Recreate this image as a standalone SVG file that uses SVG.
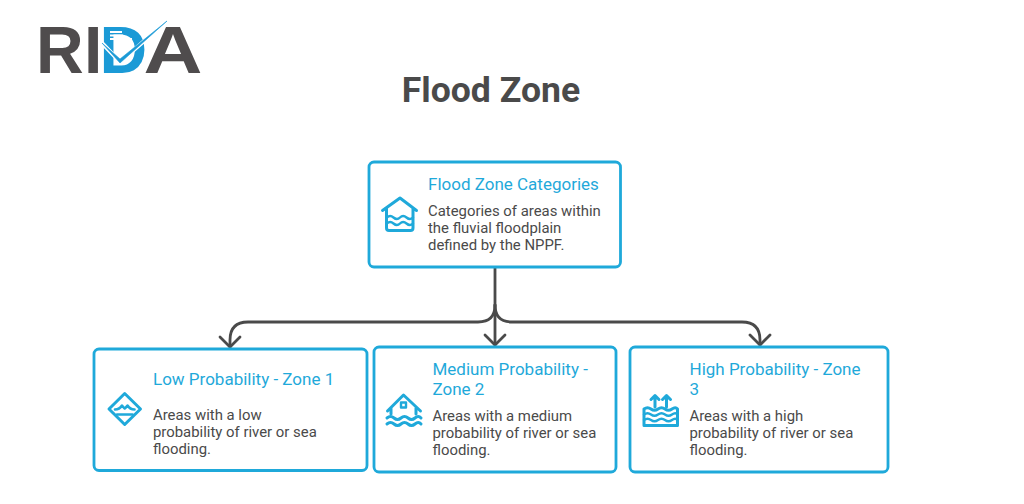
<svg xmlns="http://www.w3.org/2000/svg" width="1024" height="504" viewBox="0 0 1024 504">
<defs>
<style>
.box{fill:#fff;stroke:#1fa9da;stroke-width:2.800}
.h{font-family:Roboto,"Liberation Sans",sans-serif;font-size:17px;fill:#1fa9da}
.b{font-family:Roboto,"Liberation Sans",sans-serif;font-size:14.900px;fill:#4a4a4a}
.ic{fill:none;stroke:#1fa9da;stroke-width:3;stroke-linecap:round;stroke-linejoin:round}
.cn{fill:none;stroke:#4a4a4a;stroke-width:2.800;stroke-linecap:round;stroke-linejoin:round}
.lg{font-family:"Liberation Sans",Arial,sans-serif;font-weight:700;font-size:66px;fill:#4f4c4d}
</style>
</defs>
<rect width="1024" height="504" fill="#fff"/>
<g id="logo">
<text class="lg" x="36 84 99.500" y="72.500">RI<tspan style="fill:#1b9ad6">D</tspan></text>
<text class="lg" x="143.500" y="72.500" textLength="59" lengthAdjust="spacingAndGlyphs">A</text>
<path d="M102 43L120 62L166 22" fill="none" stroke="#fff" stroke-width="4"/>
<path d="M102 43L120 59L167 21L120 63Z" fill="#1b9ad6" stroke="#1b9ad6" stroke-width=".6"/>
<path d="M110 32H122M110 35.500H123M110 39H132" stroke="#fff" stroke-width="1.800" fill="none"/>
</g>
<text id="title" x="491" y="102" text-anchor="middle" style="font-family:Roboto,'Liberation Sans',sans-serif;font-weight:700;font-size:35.600px;fill:#4a4a4a">Flood Zone</text>
<g id="connectors">
<path class="cn" d="M495 267V345"/>
<path class="cn" d="M495 305Q495 322 478 322H248Q230 322 230 340V347"/>
<path class="cn" d="M495 305Q495 322 512 322H742Q760 322 760 340V345"/>
<path class="cn" d="M220 337L230 347L240 337"/>
<path class="cn" d="M485 335L495 345L505 335"/>
<path class="cn" d="M750 335L760 345L770 335"/>
</g>
<g id="node-categories">
<rect class="box" x="369" y="162" width="251.500" height="105" rx="5"/>
<path class="ic" d="M382.500 210.500L400 198L416.500 210.500M386.500 208V228Q386.500 230.500 389 230.500H410.500Q413 230.500 413 228V208"/>
<path class="ic" style="stroke-width:2.400" d="M387 217.500Q390 214.500 393.500 217.500T400 217.500T406.500 217.500T413 217.500M387 223.500Q390 220.500 393.500 223.500T400 223.500T406.500 223.500T413 223.500"/>
<text class="h" x="428" y="190">Flood Zone Categories</text>
<text class="b" x="428" y="216">Categories of areas within</text>
<text class="b" x="428" y="233">the fluvial floodplain</text>
<text class="b" x="428" y="250">defined by the NPPF.</text>
</g>
<g id="node-low">
<rect class="box" x="94" y="349" width="273" height="121.500" rx="5"/>
<path class="ic" d="M124.700 393.500L140.500 409L124.700 424.500L109 409Z"/>
<path class="ic" style="stroke-width:2.600" d="M115 409.500Q119.500 409.500 122 405.500Q123.500 407.500 124.700 408.500Q126 407.500 127.500 405.500Q130 409.500 134.500 409.500M117 414.500H132.500"/>
<text class="h" x="153" y="385">Low Probability - Zone 1</text>
<text class="b" x="153" y="420">Areas with a low</text>
<text class="b" x="153" y="437">probability of river or sea</text>
<text class="b" x="153" y="454">flooding.</text>
</g>
<g id="node-medium">
<rect class="box" x="374" y="347" width="242" height="125" rx="5"/>
<path class="ic" d="M387.500 411L403.500 395L420.500 411M391 408V414M416 408V414"/>
<rect class="ic" x="401" y="402.500" width="5" height="5" style="stroke-width:2.400"/>
<path class="ic" d="M387 418Q390.500 415 394 418T401 418T408 418T415 418T421 418M387 424Q390.500 421 394 424T401 424T408 424T415 424T421 424"/>
<text class="h" x="432.500" y="375">Medium Probability -</text>
<text class="h" x="432.500" y="395">Zone 2</text>
<text class="b" x="432.500" y="421">Areas with a medium</text>
<text class="b" x="432.500" y="438">probability of river or sea</text>
<text class="b" x="432.500" y="455">flooding.</text>
</g>
<g id="node-high">
<rect class="box" x="630" y="347" width="258" height="125" rx="5"/>
<path class="ic" d="M655 407V395.500M651 399.500L655 395.500L659 399.500M666.500 407V395.500M662.500 399.500L666.500 395.500L670.500 399.500"/>
<path class="ic" d="M644 409Q647.500 406.500 651 409T658 409T665 409T672 409T677.500 409V425.500H644Z"/>
<path class="ic" style="stroke-width:2.400" d="M644 414.500Q647.500 412 651 414.500T658 414.500T665 414.500T672 414.500T677.500 414.500M644 420Q647.500 417.500 651 420T658 420T665 420T672 420T677.500 420"/>
<text class="h" x="689.500" y="375">High Probability - Zone</text>
<text class="h" x="689.500" y="395">3</text>
<text class="b" x="689.500" y="421">Areas with a high</text>
<text class="b" x="689.500" y="438">probability of river or sea</text>
<text class="b" x="689.500" y="455">flooding.</text>
</g>
</svg>
